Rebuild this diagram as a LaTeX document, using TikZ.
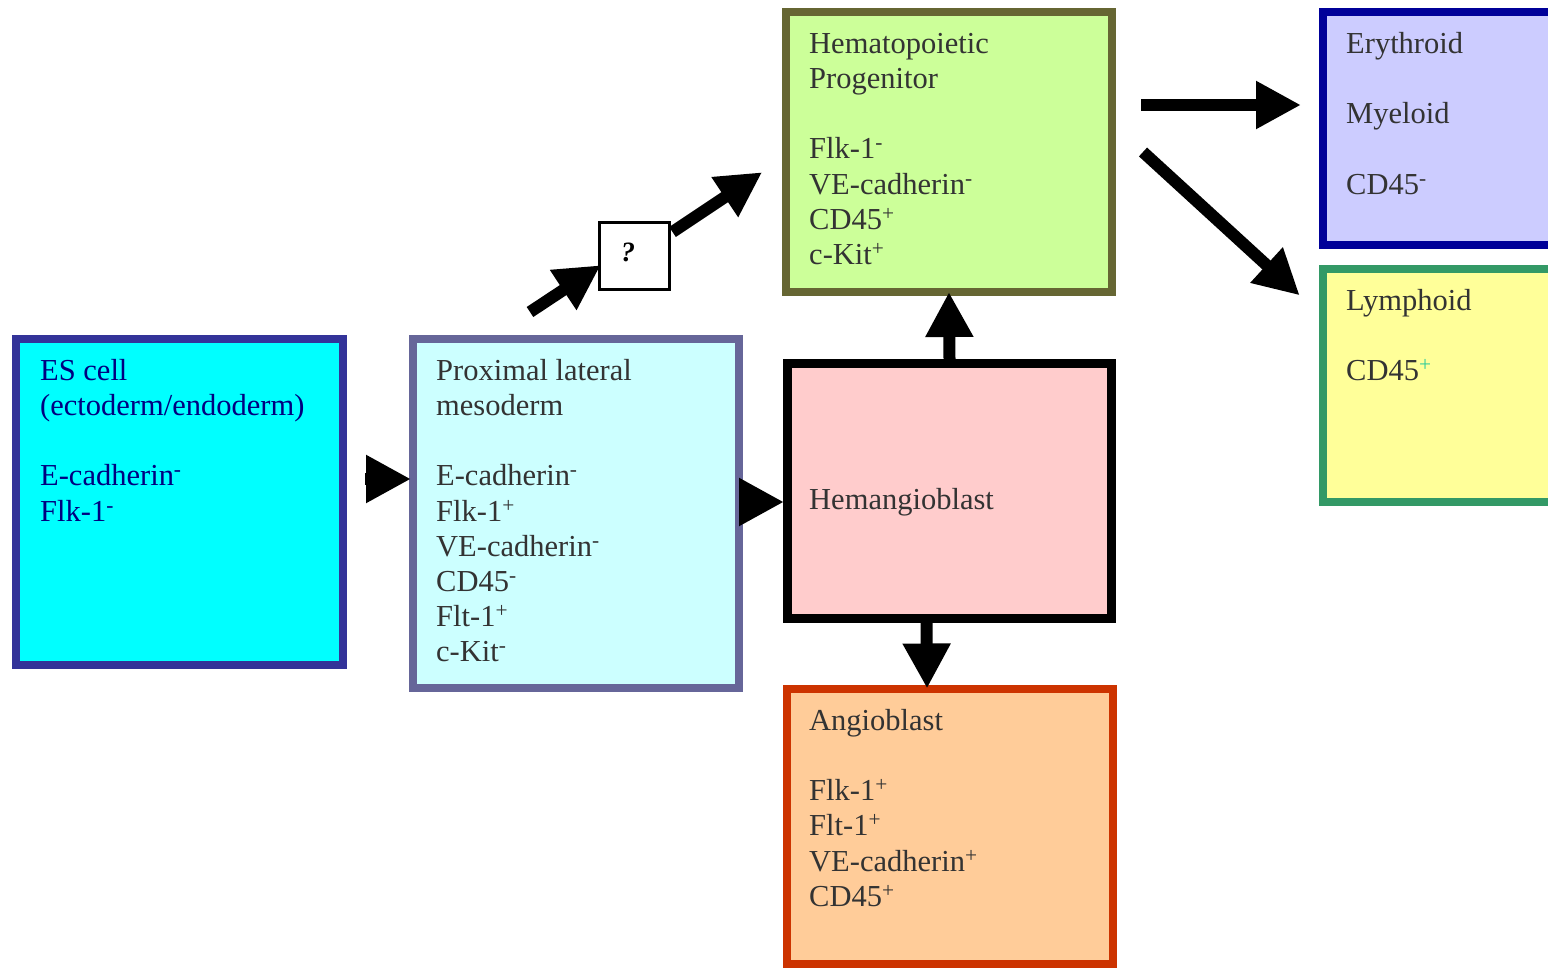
\documentclass[tikz,border=0pt]{standalone}
\usepackage{fontspec}
\setmainfont{Liberation Serif}
\usetikzlibrary{arrows.meta}
\definecolor{esfill}{HTML}{00FFFF}
\definecolor{esdraw}{HTML}{333399}
\definecolor{esText}{HTML}{000080}
\definecolor{pxfill}{HTML}{CCFFFF}
\definecolor{pxdraw}{HTML}{666699}
\definecolor{hgfill}{HTML}{FFCCCC}
\definecolor{hpfill}{HTML}{CCFF99}
\definecolor{hpdraw}{HTML}{666633}
\definecolor{erfill}{HTML}{CCCCFF}
\definecolor{erdraw}{HTML}{000099}
\definecolor{lyfill}{HTML}{FFFF99}
\definecolor{lydraw}{HTML}{339966}
\definecolor{lyplus}{HTML}{33CC99}
\definecolor{anfill}{HTML}{FFCC99}
\definecolor{andraw}{HTML}{CC3300}
\definecolor{txtgray}{HTML}{333333}
\newcommand{\supmin}{\textsuperscript{-}}
\newcommand{\supplus}{\textsuperscript{+}}
\begin{document}
\begin{tikzpicture}[x=1pt,y=-1pt,
  cellbox/.style={draw, rectangle, inner sep=0pt, line width=8pt},
  celltext/.style={font=\fontsize{30.5}{35.2}\selectfont, align=left, anchor=north west, inner sep=0pt, text=txtgray},
  arr/.style={line width=12pt, shorten >=-5pt, -{Triangle[length=45pt,width=45pt]}}
]
\useasboundingbox (0,0) rectangle (1548,968);

% boxes
\node[cellbox, fill=esfill, draw=esdraw, minimum width=327pt, minimum height=326pt] (es) at (179.5,502) {};
\node[cellbox, fill=pxfill, draw=pxdraw, minimum width=326pt, minimum height=349pt] (prox) at (576,513.5) {};
\node[cellbox, fill=hgfill, draw=black, line width=9pt, minimum width=324pt, minimum height=254.5pt] (hang) at (949.5,490.75) {};
\node[cellbox, fill=hpfill, draw=hpdraw, minimum width=326pt, minimum height=280pt] (hemato) at (949,152) {};
\node[cellbox, fill=erfill, draw=erdraw, minimum width=237pt, minimum height=233pt] (ery) at (1441.5,128.5) {};
\node[cellbox, fill=lyfill, draw=lydraw, minimum width=237pt, minimum height=233pt] (lymph) at (1441.5,385.5) {};
\node[cellbox, fill=anfill, draw=andraw, minimum width=326pt, minimum height=275pt] (angio) at (950,826.5) {};
\node[cellbox, fill=white, draw=black, line width=3pt, minimum width=70pt, minimum height=67pt] (q) at (634.5,256) {};

% texts
\node[celltext, text=esText] (esT) at (40,355.4) {\strut ES cell\\(ectoderm/endoderm)\\[35.2pt]E-cadherin\supmin\\Flk-1\supmin};
\node[celltext] (proxT) at (436,355.4) {\strut Proximal lateral\\mesoderm\\[35.2pt]E-cadherin\supmin\\Flk-1\supplus\\VE-cadherin\supmin\\CD45\supmin\\Flt-1\supplus\\c-Kit\supmin};
\node[celltext, anchor=base west] (hangT) at (809,509) {Hemangioblast};
\node[celltext] (hematoT) at (809,28.4) {\strut Hematopoietic\\Progenitor\\[35.2pt]Flk-1\supmin\\VE-cadherin\supmin\\CD45\supplus\\c-Kit\supplus};
\node[celltext] (eryT) at (1346,28.4) {\strut Erythroid\\[35.2pt]Myeloid\\[35.2pt]CD45\supmin};
\node[celltext] (lymphT) at (1346,285.4) {\strut Lymphoid\\[35.2pt]CD45\textsuperscript{\color{lyplus}+}};
\node[celltext] (angioT) at (809,705.4) {\strut Angioblast\\[35.2pt]Flk-1\supplus\\Flt-1\supplus\\VE-cadherin\supplus\\CD45\supplus};
\node[font=\fontsize{28}{30}\selectfont\bfseries\itshape, anchor=base, inner sep=0pt] (qT) at (628,262) {?};

% connectors
\draw[arr] ([shift={(-44,-34.5)}]prox.west) -- ([shift={(-3,-34.5)}]prox.west);
\draw[arr] ([yshift=11.5pt]prox.east) -- ([shift={(-4,11.25)}]hang.west);
\draw[arr] ([shift={(-46,-23)}]prox.north) -- ([shift={(-1.5,12)}]q.west);
\draw[arr] ([shift={(1.5,-24)}]q.east) -- ([shift={(-24,23)}]hemato.west);
\draw[arr] (hang.north) -- ([yshift=-1pt]hemato.south);
\draw[arr] ([xshift=-23pt]hang.south) -- ([shift={(-23,-1.5)}]angio.north);
\draw[arr] ([shift={(25,-47)}]hemato.east) -- ([shift={(-23,-23.5)}]ery.west);
\draw[arr] ([shift={(27,0)}]hemato.east) -- ([shift={(-23,-93.5)}]lymph.west);
\end{tikzpicture}
\end{document}
